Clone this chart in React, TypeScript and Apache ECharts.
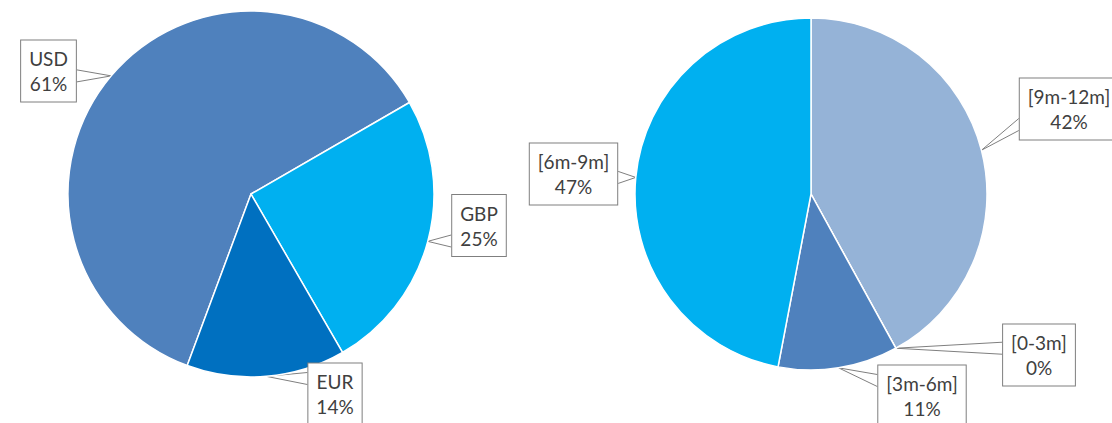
import React, { useEffect, useRef } from "react";
import * as echarts from "echarts";

// ---- data ----
const currencyNames = ["USD", "GBP", "EUR"];
const currencyValues = [61, 25, 14];
const maturityNames = ["[9m-12m]", "[0-3m]", "[3m-6m]", "[6m-9m]"];
const maturityValues = [42, 0, 11, 47];

// ---- styling / layout ----
const currencyColors = ["#4F81BD", "#00B0F0", "#0070C0"];
const maturityColors = ["#95B3D7", "#4F81BD", "#4F81BD", "#00B0F0"];
const currencyLabelCenters = [
  [48.5, 71],
  [479, 225.5],
  [335, 394],
];
const maturityLabelCenters = [
  [1069, 109],
  [1039, 355],
  [922, 396],
  [573.5, 174],
];
const leftPie = { cx: 251, cy: 194, r: 183, start: 249.6 };
const rightPie = { cx: 811, cy: 194, r: 176, start: 90 };

function midAnchor(values: number[], idx: number, pie: typeof leftPie) {
  const total = values.reduce((a, b) => a + b, 0);
  let acc = 0;
  for (let i = 0; i < idx; i++) acc += values[i];
  const mid = acc + values[idx] / 2;
  const ang = ((pie.start - (mid / total) * 360) * Math.PI) / 180;
  return [pie.cx + pie.r * Math.cos(ang), pie.cy - pie.r * Math.sin(ang)];
}

function makeLayout(centers: number[][], values: number[], pie: typeof leftPie) {
  return (params: any) => {
    const pos = centers[params.dataIndex];
    const w = params.labelRect.width;
    const h = params.labelRect.height;
    const cx = pos[0];
    const cy = pos[1];
    const anchor =
      params.labelLinePoints && params.labelLinePoints[0]
        ? params.labelLinePoints[0]
        : midAnchor(values, params.dataIndex, pie);
    const left = cx - w / 2;
    const right = cx + w / 2;
    const top = cy - h / 2;
    const bottom = cy + h / 2;
    const sideX = anchor[0] < cx ? left : right;
    const mid = Math.min(Math.max(anchor[1], top + 16), bottom - 16);
    return {
      x: cx,
      y: cy,
      align: "center",
      verticalAlign: "middle",
      labelLinePoints: [
        [sideX, mid - 6],
        [anchor[0], anchor[1]],
        [sideX, mid + 6],
      ],
    };
  };
}

const labelStyle = {
  show: true,
  position: "outside",
  formatter: (p: any) => `${p.name}\n${Math.round(p.percent)}%`,
  color: "#404040",
  fontFamily: "Lato, 'Open Sans', sans-serif",
  fontSize: 19,
  lineHeight: 25,
  align: "center",
  backgroundColor: "#ffffff",
  borderColor: "#7f7f7f",
  borderWidth: 1,
  padding: [6, 8, 5, 8],
};

const labelLine = {
  show: true,
  length: 10,
  length2: 10,
  lineStyle: { color: "#7f7f7f", width: 1 },
};

export default function App() {
  const ref = useRef<HTMLDivElement>(null);
  useEffect(() => {
    if (!ref.current) return;
    const chart = echarts.init(ref.current, null, { renderer: "svg" });
    chart.setOption({
      animation: false,
      backgroundColor: "#ffffff",
      series: [
        {
          type: "pie",
          center: [leftPie.cx, leftPie.cy],
          radius: leftPie.r,
          startAngle: leftPie.start,
          clockwise: true,
          avoidLabelOverlap: false,
          silent: true,
          itemStyle: { borderColor: "#ffffff", borderWidth: 1.5 },
          label: labelStyle,
          labelLine,
          labelLayout: makeLayout(currencyLabelCenters, currencyValues, leftPie),
          data: currencyNames.map((n, i) => ({
            name: n,
            value: currencyValues[i],
            itemStyle: { color: currencyColors[i] },
          })),
        },
        {
          type: "pie",
          center: [rightPie.cx, rightPie.cy],
          radius: rightPie.r,
          startAngle: rightPie.start,
          clockwise: true,
          avoidLabelOverlap: false,
          silent: true,
          minShowLabelAngle: 0,
          itemStyle: { borderColor: "#ffffff", borderWidth: 1.5 },
          label: labelStyle,
          labelLine,
          labelLayout: makeLayout(maturityLabelCenters, maturityValues, rightPie),
          data: maturityNames.map((n, i) => ({
            name: n,
            value: maturityValues[i],
            itemStyle: { color: maturityColors[i] },
          })),
        },
      ],
    });
    return () => chart.dispose();
  }, []);
  return (
    <div
      ref={ref}
      style={{ position: "absolute", left: 0, top: 0, width: 1112, height: 423 }}
    />
  );
}
